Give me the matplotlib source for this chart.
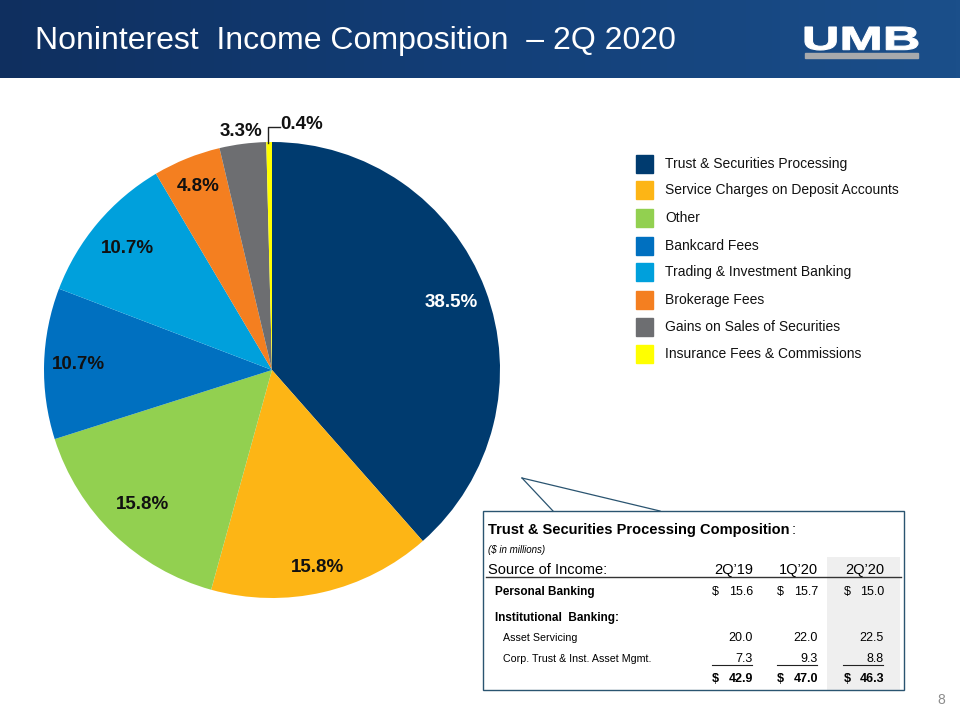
import matplotlib

matplotlib.use("Agg")
import matplotlib.pyplot as plt
import numpy as np
from matplotlib.colors import LinearSegmentedColormap
from matplotlib.font_manager import FontProperties
from matplotlib.patches import PathPatch, Rectangle
from matplotlib.textpath import TextPath
from matplotlib.transforms import Affine2D

plt.rcParams["font.family"] = ["Liberation Sans", "DejaVu Sans"]

# ---- data ----
categories = [
    "Trust & Securities Processing",
    "Service Charges on Deposit Accounts",
    "Other",
    "Bankcard Fees",
    "Trading & Investment Banking",
    "Brokerage Fees",
    "Gains on Sales of Securities",
    "Insurance Fees & Commissions",
]
shares = [38.5, 15.8, 15.8, 10.7, 10.7, 4.8, 3.3, 0.4]
colors = ["#003b6f", "#fdb515", "#92d050", "#0070c0", "#00a0dc", "#f47f20", "#6d6e71", "#ffff00"]

table_title = "Trust & Securities Processing Composition"
periods = ["2Q\u201919", "1Q\u201920", "2Q\u201920"]
personal_banking = [15.6, 15.7, 15.0]
asset_servicing = [20.0, 22.0, 22.5]
corp_trust = [7.3, 9.3, 8.8]
totals = [42.9, 47.0, 46.3]

W, H = 960, 720
fig = plt.figure(figsize=(9.6, 7.2), dpi=100)
fig.patch.set_facecolor("white")

# overlay axes in pixel coordinates
bg = fig.add_axes([0, 0, 1, 1])
bg.axis("off")

# header band
grad = np.linspace(0, 1, 256).reshape(1, -1)
hdr_cmap = LinearSegmentedColormap.from_list("hdr", ["#0f2f5f", "#133f78", "#1b4f8a"])
bg.imshow(grad, cmap=hdr_cmap, extent=[0, W, 78, 0], aspect="auto", zorder=0)
bg.set_xlim(0, W)
bg.set_ylim(H, 0)
bg.text(35, 41, "Noninterest  Income Composition  \u2013 2Q 2020", color="white",
        fontsize=23, va="center", ha="left")

# logo: stretch the word into its box
tp = TextPath((0, 0), "UMB", size=1, prop=FontProperties(family="Liberation Sans", weight="bold"))
ext = tp.get_extents()
sx = 113 / ext.width
sy = 23 / ext.height
logo_tf = Affine2D().translate(-ext.x0, -ext.y0).scale(sx, -sy).translate(805, 50) + bg.transData
bg.add_patch(PathPatch(tp, fc="white", ec="white", lw=0.8, transform=logo_tf, zorder=2))
bg.add_patch(Rectangle((805, 53), 113, 5, color="#a7a9ac", zorder=2))

# legend
leg_y = [164, 190, 218, 246, 272, 300, 327, 354]
for y, c, name in zip(leg_y, colors, categories):
    bg.add_patch(Rectangle((636, y - 9), 17, 18, color=c, zorder=2))
    bg.text(665, y, name, fontsize=10, va="center", ha="left", color="#111111")

# callout pointer + table box
bg.plot([522, 553], [478, 511], color="#2a5470", lw=0.9)
bg.plot([522, 660], [478, 511], color="#2a5470", lw=0.9)
bg.add_patch(Rectangle((827, 557), 73, 133, color="#efefef", zorder=1, lw=0))
bg.add_patch(Rectangle((483, 511), 421, 179, fill=False, ec="#2a5470", lw=1.0, zorder=3))

ttl = bg.text(488, 530, table_title, fontsize=10.5, fontweight="bold", va="center")
bg.text(792, 530, ":", fontsize=10.5, va="center")
bg.text(488, 550, "($ in millions)", fontsize=7, style="italic", va="center")
bg.text(488, 570, "Source of Income:", fontsize=10.5, va="center")
bg.plot([486, 901], [577, 577], color="#333333", lw=1.0)

num_x = [753, 818, 884]
dol_x = [712, 777, 844]
for x, p in zip(num_x, periods):
    bg.text(x, 570, p, fontsize=10.5, ha="right", va="center")

bg.text(495, 592, "Personal Banking", fontsize=8.5, fontweight="bold", va="center")
bg.text(495, 618, "Institutional  Banking:", fontsize=8.5, fontweight="bold", va="center")
bg.text(503, 638, "Asset Servicing", fontsize=7.7, va="center")
bg.text(503, 659, "Corp. Trust & Inst. Asset Mgmt.", fontsize=7.7, va="center")

for i in range(3):
    bg.text(dol_x[i], 592, "$", fontsize=9, va="center")
    bg.text(num_x[i], 592, f"{personal_banking[i]:.1f}", fontsize=9, ha="right", va="center")
    bg.text(num_x[i], 638, f"{asset_servicing[i]:.1f}", fontsize=9, ha="right", va="center")
    bg.text(num_x[i], 659, f"{corp_trust[i]:.1f}", fontsize=9, ha="right", va="center")
    bg.plot([num_x[i] - 41, num_x[i] - 1], [665, 665], color="#222222", lw=0.8)
    bg.text(dol_x[i], 679, "$", fontsize=9, fontweight="bold", va="center")
    bg.text(num_x[i], 679, f"{totals[i]:.1f}", fontsize=9, fontweight="bold", ha="right", va="center")

bg.text(945, 700, "8", fontsize=10, color="#8c8c8c", ha="right", va="center")

# pie, centred at pixel (272, 370) with radius 228
cx, cy, r = 272, 370, 228
pie_ax = fig.add_axes([(cx - r) / W, (H - cy - r) / H, 2 * r / W, 2 * r / H])
wedges, _, pcts = pie_ax.pie(
    shares, colors=colors, startangle=90, counterclock=False,
    autopct=lambda v: f"{v:.1f}%", pctdistance=0.84,
    wedgeprops=dict(linewidth=0),
    textprops=dict(fontsize=13.5, fontweight="bold", color="#111111"),
)
pie_ax.set_xlim(-1, 1)
pie_ax.set_ylim(-1, 1)

# label distance per slice (labels sit at slightly different radii)
label_r = [0.84, 0.89, 0.82, 0.85, 0.83, 0.87]
for t, v in zip(pcts, shares):
    t.set_text(f"{v}%")
for t, w, lr in zip(pcts, wedges, label_r):
    ang = np.deg2rad((w.theta1 + w.theta2) / 2)
    t.set_position((lr * np.cos(ang), lr * np.sin(ang)))
pcts[0].set_color("white")
# small slices: labels placed above the pie
pcts[6].set_position((-0.136, 1.044))
pcts[7].set_position((0.13, 1.075))
pie_ax.plot([-0.018, -0.018, 0.035], [0.995, 1.066, 1.066], color="#222222", lw=1.0, clip_on=False)

fig.savefig("out.png", dpi=100)
